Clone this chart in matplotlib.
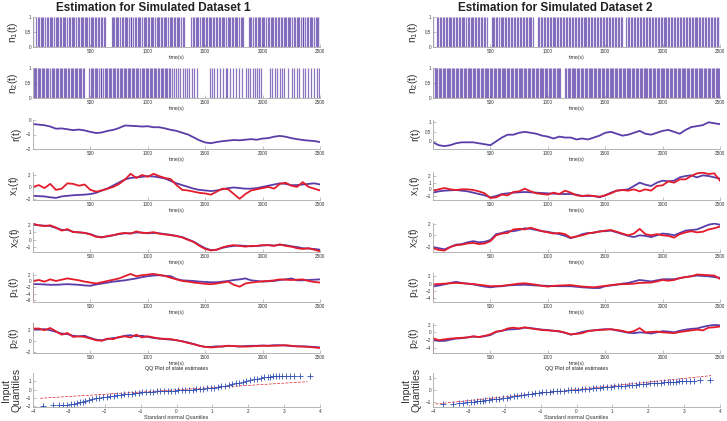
import matplotlib
matplotlib.use('Agg')
import matplotlib.pyplot as plt
import numpy as np

plt.rcParams['font.family'] = ['Liberation Sans', 'DejaVu Sans']

# ---------------- data ----------------
# values sampled every 50 s, t = 0 .. 2500
t = np.arange(0, 2501, 50)

# spike times (s)
n1_ds1 = [3, 30, 44, 52, 66, 80, 91, 104, 122, 131, 147, 160, 168, 183, 197, 206, 221, 238, 245, 259,
          274, 283, 297, 312, 320, 336, 351, 360, 373, 389, 398, 414, 427, 436, 452, 466, 474, 490, 503,
          512, 527, 541, 549, 565, 579, 588, 603, 617, 627, 684, 698, 707, 722, 736, 744, 760, 774, 783,
          798, 811, 820, 836, 850, 858, 873, 887, 896, 912, 925, 934, 950, 963, 972, 988, 1001, 1010,
          1025, 1039, 1048, 1063, 1077, 1086, 1101, 1115, 1124, 1139, 1153, 1161, 1177, 1190, 1199,
          1214, 1228, 1237, 1252, 1266, 1275, 1290, 1304, 1313, 1378, 1392, 1401, 1416, 1430, 1439,
          1454, 1468, 1477, 1492, 1506, 1514, 1530, 1543, 1552, 1567, 1581, 1590, 1605, 1619, 1628,
          1643, 1657, 1666, 1681, 1695, 1703, 1719, 1732, 1741, 1756, 1770, 1779, 1794, 1808, 1817,
          1832, 1880, 1894, 1903, 1918, 1932, 1941, 1956, 1970, 1978, 1994, 2007, 2016, 2031, 2045,
          2054, 2069, 2083, 2092, 2107, 2121, 2130, 2145, 2159, 2167, 2183, 2196, 2205, 2220, 2234,
          2243, 2258, 2272, 2281, 2296, 2310, 2319, 2334, 2348, 2356, 2372, 2385, 2394, 2409, 2423,
          2432, 2447, 2461, 2470, 2485, 2496]
n2_ds1 = [8, 20, 27, 41, 55, 62, 77, 90, 98, 112, 126, 133, 148, 162, 170, 184, 197, 205, 220, 233,
          241, 255, 269, 277, 291, 305, 313, 327, 340, 348, 363, 376, 384, 398, 412, 420, 434, 446,
          490, 503, 517, 525, 539, 553, 561, 575, 588, 596, 611, 624, 632, 646, 660, 668, 682, 696,
          704, 718, 731, 739, 754, 767, 775, 790, 803, 811, 825, 839, 847, 861, 874, 882, 897, 910,
          918, 932, 946, 954, 968, 982, 990, 1004, 1017, 1025, 1040, 1053, 1061, 1075, 1089, 1097,
          1111, 1125, 1133, 1147, 1160, 1168, 1183, 1196,
          1212, 1228, 1246, 1264, 1283, 1306, 1322, 1343, 1362, 1385, 1402, 1428, 1538, 1556, 1576,
          1600, 1633, 1657, 1677, 1693, 1716, 1741, 1766, 1794, 1823, 1852, 1873, 1890, 1916, 1931,
          1949, 1969, 1984, 2065, 2086, 2106, 2129, 2150, 2173, 2188, 2217, 2252, 2275, 2299, 2319,
          2348, 2369, 2392, 2421, 2450, 2474, 2494]
n1_ds2 = [2, 35, 47, 58, 72, 84, 97, 109, 121, 136, 148, 159, 173, 186, 198, 211, 223, 236, 250,
          262, 274, 289, 301, 313, 327, 340, 352, 366, 378, 391, 405, 417, 429, 443, 455, 468, 510,
          523, 535, 549, 561, 574, 588, 600, 612, 626, 639, 651, 665, 677, 690, 704, 716, 729, 742,
          755, 767, 781, 793, 806, 820, 832, 845, 858, 870, 912, 925, 937, 951, 963, 976, 990, 1002,
          1015, 1028, 1041, 1053, 1067, 1079, 1092, 1106, 1118, 1131, 1144, 1157, 1169, 1183, 1195,
          1208, 1222, 1234, 1247, 1260, 1272, 1286, 1298, 1311, 1325, 1337, 1350, 1363, 1376, 1388,
          1402, 1414, 1427, 1441, 1453, 1466, 1479, 1492, 1504, 1518, 1530, 1543, 1557, 1569, 1582,
          1595, 1608, 1620, 1634, 1646, 1685, 1699, 1711, 1724, 1737, 1750, 1762, 1776, 1788, 1801,
          1815, 1827, 1840, 1853, 1866, 1878, 1892, 1904, 1917, 1931, 1943, 1956, 1969, 1982, 1994,
          2008, 2020, 2033, 2047, 2059, 2072, 2085, 2098, 2110, 2124, 2136, 2149, 2163, 2175, 2188,
          2201, 2214, 2226, 2240, 2252, 2265, 2279, 2291, 2304, 2317, 2330, 2342, 2356, 2368, 2381,
          2395, 2407, 2420, 2433, 2446, 2458, 2472, 2484, 2497]
n2_ds2 = [4, 16, 27, 38, 50, 61, 73, 84, 95, 107, 118, 130, 141, 152, 164, 175, 187, 198, 209, 221,
          232, 244, 255, 266, 278, 289, 301, 312, 323, 335, 346, 358, 369, 380, 392, 403, 415, 426,
          437, 449, 460, 472, 483, 494, 506, 517, 529, 540, 551, 563, 574, 586, 597, 608, 620, 631,
          643, 654, 665, 677, 688, 700, 711, 722, 734, 745, 757, 768, 779, 791, 802, 814, 825, 836,
          848, 859, 871, 882, 893, 905, 916, 928, 939, 950, 962, 973, 985, 996, 1007, 1019, 1030,
          1042, 1053, 1064, 1076, 1087, 1099, 1110, 1150, 1161, 1173, 1184, 1196, 1207, 1218, 1230,
          1241, 1253, 1264, 1275, 1287, 1298, 1310, 1321, 1332, 1344, 1355, 1367, 1378, 1389, 1401,
          1412, 1424, 1435, 1446, 1458, 1469, 1481, 1492, 1503, 1515, 1526, 1538, 1549, 1560, 1572,
          1583, 1595, 1606, 1617, 1629, 1640, 1652, 1663, 1674, 1686, 1697, 1709, 1720, 1731, 1743,
          1754, 1766, 1777, 1788, 1800, 1811, 1823, 1834, 1845, 1857, 1868, 1880, 1891, 1902, 1914,
          1925, 1937, 1948, 1959, 1971, 1982, 1994, 2005, 2016, 2028, 2039, 2051, 2062, 2073, 2085,
          2096, 2108, 2119, 2130, 2142, 2153, 2165, 2176, 2187, 2199, 2210, 2222, 2233, 2244, 2256,
          2267, 2279, 2290, 2301, 2313, 2324, 2336, 2347, 2358, 2370, 2381, 2393, 2404, 2415, 2427,
          2438, 2450, 2461, 2472, 2484, 2495]

# dataset 1
r_ds1 = [-0.28, -0.32, -0.36, -0.45, -0.6, -0.58, -0.64, -0.7, -0.66, -0.72,
         -0.82, -0.9, -0.86, -0.75, -0.68, -0.55, -0.38, -0.4, -0.42, -0.45,
         -0.43, -0.5, -0.5, -0.58, -0.68, -0.75, -0.88, -1.0, -1.2, -1.4,
         -1.55, -1.6, -1.52, -1.46, -1.42, -1.38, -1.4, -1.36, -1.32, -1.36,
         -1.28, -1.25, -1.15, -1.1, -1.15, -1.25, -1.32, -1.38, -1.42, -1.45,
         -1.52]
x1_true_ds1 = [-1.5, -1.55, -1.6, -1.75, -1.85, -1.6, -1.5, -1.4, -1.35, -1.3,
               -1.2, -1.0, -0.6, -0.25, 0.25, 0.75, 1.25, 1.5, 1.6, 1.7,
               1.8, 1.75, 1.6, 1.4, 1.0, 0.6, 0.3, 0.0, -0.3, -0.5,
               -0.6, -0.7, -0.6, -0.4, -0.2, -0.1, -0.2, -0.3, -0.3, -0.2,
               0.0, 0.2, 0.4, 0.6, 0.5, 0.3, 0.3, 0.4, 0.5, 0.6,
               0.4]
x1_est_ds1 = [0.0, 0.3, -0.2, 0.5, -0.5, -0.3, 0.6, 0.5, 0.2, 0.4,
              -0.5, -0.8, -0.6, -0.3, 0.0, 0.5, 1.2, 2.2, 1.5, 2.0,
              1.7, 2.2, 1.8, 1.5, 1.3, 0.3, -0.5, -0.6, -0.8, -1.0,
              -1.1, -1.3, -0.8, -0.3, -0.4, -1.2, -2.0, -1.2, -0.6, -0.4,
              -0.2, 0.0, -0.3, 0.5, 0.7, 0.2, 0.0, 0.8, 0.0, -0.3,
              -0.6]
x2_true_ds1 = [2.0, 1.9, 1.85, 1.8, 1.55, 1.3, 1.3, 1.05, 0.95, 0.9,
               0.75, 0.45, 0.35, 0.45, 0.6, 0.75, 0.85, 0.85, 0.95, 0.95,
               0.85, 0.9, 0.85, 0.75, 0.65, 0.5, 0.35, 0.05, -0.25, -0.7,
               -1.1, -1.35, -1.3, -1.05, -0.9, -0.8, -0.75, -0.8, -0.85, -0.8,
               -0.75, -0.7, -0.75, -0.65, -0.7, -0.85, -0.95, -1.1, -1.15, -1.2,
               -1.3]
x2_est_ds1 = [2.1, 1.9, 1.8, 1.9, 1.6, 1.2, 1.4, 1.0, 1.0, 0.9,
              0.7, 0.4, 0.3, 0.5, 0.6, 0.8, 0.9, 0.8, 1.1, 0.9,
              0.9, 1.0, 0.8, 0.7, 0.6, 0.5, 0.3, 0.0, -0.3, -0.8,
              -1.2, -1.4, -1.3, -1.0, -0.8, -0.7, -0.8, -0.9, -0.8, -0.8,
              -0.7, -0.7, -0.8, -0.6, -0.8, -0.9, -1.1, -1.2, -1.1, -1.3,
              -1.5]
p1_true_ds1 = [-1.0, -1.0, -1.1, -1.2, -1.2, -1.1, -1.0, -1.1, -1.2, -1.4,
               -1.5, -1.1, -0.8, -0.5, -0.2, 0.0, 0.2, 0.5, 0.8, 1.2,
               1.5, 1.7, 1.8, 1.6, 1.5, 0.6, 0.2, 0.1, 0.0, -0.2,
               -0.3, -0.4, -0.4, -0.2, 0.0, 0.3, 0.5, 0.8, 0.2, 0.0,
               -0.2, -0.1, 0.0, 0.3, 0.5, 0.8, 0.2, 0.2, 0.3, 0.4,
               0.5]
p1_est_ds1 = [0.0, 0.3, -0.2, 0.5, 0.0, 0.4, 0.8, 0.5, 0.2, -0.2,
              -0.5, -0.8, -0.4, 0.0, 0.4, 0.8, 1.5, 2.2, 1.5, 1.8,
              2.0, 2.2, 1.9, 1.6, 1.0, 0.5, 0.0, -0.2, -0.5, -0.7,
              -0.9, -1.0, -0.8, -0.5, -0.2, -1.2, -1.8, -0.8, -0.5, -0.3,
              -0.1, 0.0, 0.2, 0.5, 0.4, 0.3, 0.4, 0.5, 0.0, -0.3,
              -0.5]
p1_start_ds1 = -6.3
p2_true_ds1 = [2.2, 2.1, 2.2, 2.0, 1.7, 1.4, 1.3, 1.0, 0.9, 1.0,
               0.6, 0.3, 0.2, 0.4, 0.6, 0.7, 1.0, 1.1, 0.9, 1.0,
               0.8, 0.6, 0.5, 0.4, 0.3, 0.2, 0.0, -0.2, -0.5, -0.8,
               -1.0, -1.0, -0.9, -0.95, -0.8, -0.85, -0.95, -0.85, -0.8, -0.8,
               -0.75, -0.8, -0.7, -0.7, -0.75, -0.85, -0.9, -0.9, -0.95, -1.0,
               -1.1]
p2_est_ds1 = [2.3, 2.3, 2.0, 2.4, 1.8, 1.2, 1.5, 0.8, 0.9, 0.8,
              0.5, 0.2, 0.1, 0.5, 0.4, 0.8, 0.9, 0.7, 1.2, 0.7,
              0.9, 0.7, 0.5, 0.45, 0.4, 0.2, 0.0, -0.3, -0.5, -0.8,
              -1.0, -1.1, -1.0, -0.9, -0.8, -0.85, -0.9, -0.95, -0.9, -0.85,
              -0.8, -0.8, -0.8, -0.75, -0.7, -0.8, -0.9, -0.95, -1.0, -1.1,
              -1.2]
p2_start_ds1 = 3.2

# dataset 2
r_ds2 = [-0.05, -0.2, -0.25, -0.2, -0.1, -0.05, -0.05, -0.05, -0.1, -0.15,
         -0.2, 0.0, 0.2, 0.35, 0.35, 0.45, 0.5, 0.45, 0.4, 0.3,
         0.25, 0.15, 0.25, 0.2, 0.2, 0.1, 0.15, 0.1, 0.2, 0.3,
         0.45, 0.5, 0.4, 0.3, 0.35, 0.45, 0.55, 0.4, 0.35, 0.45,
         0.55, 0.6, 0.5, 0.4, 0.6, 0.75, 0.8, 0.85, 1.0, 0.95,
         0.9]
x1_true_ds2 = [-0.5, -0.3, -0.2, -0.15, -0.1, -0.2, -0.3, -0.5, -0.7, -0.9,
               -1.2, -1.0, -0.7, -0.6, -0.5, -0.45, -0.4, -0.45, -0.5, -0.55,
               -0.6, -0.65, -0.7, -0.7, -0.7, -0.8, -1.0, -1.0, -1.0, -1.2,
               -0.9, -0.5, -0.2, -0.1, 0.0, 0.5, 1.0, 0.7, 0.5, 1.0,
               1.3, 1.2, 1.3, 1.8, 2.0, 2.1, 1.8, 2.1, 2.0, 1.8,
               1.6]
x1_est_ds2 = [-0.2, 0.0, 0.2, 0.0, -0.1, 0.0, 0.0, -0.1, -0.3, -0.6,
              -1.3, -1.2, -0.8, -0.9, -0.4, -0.3, 0.1, -0.3, -0.6, -0.7,
              -0.8, -0.5, -0.7, -0.2, -0.5, -0.9, -1.0, -0.9, -1.0, -1.1,
              -0.9, -0.6, -0.2, -0.1, -0.2, 0.0, -0.3, 0.0, -0.2, 0.5,
              0.6, 1.2, 1.0, 1.5, 1.5, 2.0, 2.4, 2.5, 2.3, 2.4,
              1.3]
x2_true_ds2 = [-2.0, -2.2, -2.4, -2.0, -1.6, -1.5, -1.2, -1.0, -1.2, -1.1,
               -0.8, 0.2, 0.4, 0.7, 0.7, 0.9, 1.2, 1.1, 0.9, 0.7,
               0.6, 0.4, 0.2, -0.1, -0.5, -0.2, 0.2, 0.4, 0.4, 0.7,
               0.7, 0.8, 0.5, 0.2, -0.1, -0.3, 0.0, -0.1, -0.3, 0.0,
               0.3, 0.2, 0.0, 0.4, 0.8, 0.9, 1.0, 1.4, 1.8, 2.0,
               1.8]
x2_est_ds2 = [-2.2, -2.5, -2.6, -2.0, -1.7, -1.6, -1.4, -1.3, -1.5, -1.4,
              -1.0, 0.0, 0.3, 0.4, 1.0, 1.1, 1.0, 1.3, 1.0, 0.7,
              0.5, 0.3, 0.4, 0.2, -0.4, -0.2, 0.0, 0.3, 0.5, 0.6,
              0.8, 0.9, 0.6, 0.3, 0.0, 0.3, 1.1, 0.2, 0.0, 0.2,
              0.0, -0.1, -0.4, 0.2, 0.5, 0.7, 0.5, 0.6, 1.0, 1.2,
              1.5]
p1_true_ds2 = [-0.8, -0.5, -0.2, 0.2, 0.5, 0.2, 0.0, -0.2, -0.5, -0.8,
               -1.0, -0.8, -0.7, -0.5, -0.4, -0.35, -0.3, -0.4, -0.5, -0.55,
               -0.6, -0.65, -0.7, -0.7, -0.7, -0.85, -1.0, -1.1, -1.2, -1.2,
               -0.7, -0.5, -0.3, 0.0, 0.2, 0.6, 1.0, 0.8, 0.6, 0.9,
               1.2, 1.2, 1.2, 1.5, 1.8, 2.0, 2.2, 2.1, 2.0, 1.8,
               1.6]
p1_est_ds2 = [-0.2, -0.1, 0.0, 0.1, 0.2, 0.1, 0.0, -0.1, -0.3, -0.5,
              -0.7, -0.65, -0.6, -0.4, -0.2, 0.0, 0.1, -0.1, -0.3, -0.6,
              -0.8, -0.6, -0.5, -0.45, -0.4, -0.6, -0.8, -0.9, -1.0, -0.8,
              -0.6, -0.4, -0.2, -0.15, -0.1, 0.0, 0.2, 0.25, 0.3, 0.6,
              1.0, 0.8, 1.0, 1.5, 1.8, 2.0, 2.5, 2.4, 2.3, 2.2,
              1.3]
p1_start_ds2 = -4.3
p2_true_ds2 = [-2.0, -2.2, -2.2, -1.9, -1.6, -1.5, -1.3, -1.1, -1.2, -1.0,
               -0.7, 0.1, 0.4, 0.7, 0.8, 0.9, 1.2, 1.1, 0.9, 0.7,
               0.6, 0.4, 0.2, -0.1, -0.6, -0.3, 0.1, 0.4, 0.5, 0.7,
               0.8, 0.8, 0.5, 0.2, -0.1, -0.2, 0.0, -0.1, -0.3, 0.0,
               0.3, 0.2, 0.0, 0.4, 0.7, 0.9, 1.0, 1.4, 1.7, 1.9,
               1.8]
p2_est_ds2 = [-1.5, -2.0, -1.8, -1.6, -1.5, -1.4, -1.3, -1.0, -1.2, -0.9,
              -0.5, 0.2, 0.4, 1.0, 1.2, 1.0, 1.3, 1.0, 0.8, 0.6,
              0.5, 0.4, 0.3, -0.1, -0.5, -0.4, -0.2, 0.3, 0.5, 0.6,
              0.7, 0.8, 0.6, 0.4, 0.0, 0.3, 1.1, 0.0, 0.1, 0.2,
              0.0, -0.1, -0.2, 0.1, 0.3, 0.5, 0.7, 0.5, 1.2, 1.3,
              1.5]
p2_start_ds2 = -5.2

# QQ plots
qq_x = [-3.72, -3.45, -3.28, -3.15, -3.04, -2.95, -2.86, -2.78, -2.7, -2.62, -2.55,
        -2.45, -2.35, -2.25, -2.15, -2.05, -1.95, -1.85, -1.75, -1.65, -1.55,
        -1.45, -1.35, -1.25, -1.15, -1.05, -0.95, -0.85, -0.75, -0.65, -0.55,
        -0.45, -0.35, -0.25, -0.15, -0.05, 0.05, 0.15, 0.25, 0.35, 0.45,
        0.55, 0.65, 0.75, 0.85, 0.95, 1.05, 1.15, 1.25, 1.35, 1.45,
        1.55, 1.65, 1.75, 1.85, 1.95, 2.05, 2.15, 2.25, 2.35, 2.45,
        2.55, 2.62, 2.7, 2.78, 2.86, 2.95, 3.04, 3.15, 3.28, 3.45, 3.72]
qq_y_ds1 = [-1.92, -1.91, -1.9, -1.88, -1.84, -1.78, -1.7, -1.62, -1.53, -1.44, -1.37,
            -1.27, -1.15, -1.05, -0.98, -0.93, -0.88, -0.83, -0.77, -0.7, -0.64,
            -0.59, -0.54, -0.49, -0.44, -0.38, -0.34, -0.31, -0.28, -0.25, -0.21,
            -0.19, -0.17, -0.15, -0.14, -0.13, -0.11, -0.09, -0.07, -0.04, -0.01,
            0.02, 0.06, 0.1, 0.14, 0.18, 0.23, 0.31, 0.39, 0.47, 0.56,
            0.65, 0.74, 0.84, 0.94, 1.03, 1.13, 1.23, 1.32, 1.4, 1.48,
            1.53, 1.56, 1.59, 1.6, 1.61, 1.62, 1.62, 1.63, 1.63, 1.64, 1.65]
qq_y_ds2 = [-1.2, -1.19, -1.15, -1.11, -1.07, -1.04, -1.0, -0.97, -0.94, -0.91, -0.89,
            -0.86, -0.82, -0.78, -0.74, -0.7, -0.66, -0.61, -0.56, -0.52, -0.47,
            -0.42, -0.37, -0.33, -0.29, -0.25, -0.22, -0.18, -0.16, -0.13, -0.11,
            -0.09, -0.07, -0.05, -0.03, -0.01, 0.01, 0.04, 0.06, 0.08, 0.11,
            0.13, 0.16, 0.19, 0.22, 0.25, 0.28, 0.3, 0.33, 0.35, 0.37,
            0.4, 0.42, 0.44, 0.47, 0.49, 0.52, 0.55, 0.57, 0.6, 0.62,
            0.64, 0.65, 0.67, 0.68, 0.69, 0.7, 0.72, 0.73, 0.75, 0.78, 0.82]
qq_ref_x_ds1 = [-3.8, 3.65]
qq_ref_y_ds1 = [-1.05, 0.95]
qq_ref_x_ds2 = [-3.93, 3.75]
qq_ref_y_ds2 = [-1.2, 1.18]

# ---------------- figure ----------------
BLUE = '#5a3da8'
RED = '#e31b2b'
SPIKE = '#5a3aa6'
GRAY = '#a8a8a8'

fig = plt.figure(figsize=(7.27, 4.21), dpi=100)

rows_px = [(17, 47), (68, 98), (120, 149), (172, 200), (223, 252), (273, 302), (323, 353), (373, 407)]
col_left_px = [33, 433]


def make_ax(col, row):
    top, bot = rows_px[row]
    ax = fig.add_axes([col_left_px[col] / 727, 1 - bot / 421, 287 / 727, (bot - top) / 421])
    for s in ['top', 'right']:
        ax.spines[s].set_visible(False)
    for s in ['left', 'bottom']:
        ax.spines[s].set_color(GRAY)
        ax.spines[s].set_linewidth(0.6)
    ax.tick_params(direction='in', length=2, width=0.5, color=GRAY,
                   labelsize=3.3, labelcolor='#333333', pad=1.5)
    return ax


def time_axis(ax, ylab):
    ax.set_xlim(0, 2500)
    ax.set_xticks([500, 1000, 1500, 2000, 2500])
    ax.set_xlabel('time(s)', fontsize=3.7, labelpad=1, color='#333333')
    ax.set_ylabel(ylab, fontsize=7.5, labelpad=3, color='#333333')


def spikes(ax, times, ylab):
    ax.vlines(times, 0, 1, color=SPIKE, linewidth=0.9, alpha=0.7)
    ax.set_ylim(0, 1)
    ax.set_yticks([0, 0.5, 1])
    ax.set_yticklabels(['0', '0.5', '1'])
    time_axis(ax, ylab)


def traces(ax, true, est, ylab, ylim, yticks, ticklabels=None, start=None):
    if true is not None:
        ax.plot(t, true, color=BLUE, linewidth=1.3)
    if est is not None:
        ax.plot(t, est, color=RED, linewidth=1.3)
        if start is not None:
            ax.plot([t[0] + 2, t[0] + 2], [start, est[0]], color=RED, linewidth=1.2)
    ax.set_ylim(*ylim)
    ax.set_yticks(yticks)
    if ticklabels is not None:
        ax.set_yticklabels(ticklabels)
    time_axis(ax, ylab)


def qq(ax, y, rx, ry, ylim, yticks):
    ax.plot(rx, ry, color=RED, linestyle=(0, (4, 2)), linewidth=0.5)
    ax.plot(qq_x, y, linestyle='none', marker='+', markersize=4.5,
            markeredgewidth=0.6, color='#2f4fb5')
    ax.set_xlim(-4, 4)
    ax.set_xticks([-4, -3, -2, -1, 0, 1, 2, 3, 4])
    ax.set_ylim(*ylim)
    ax.set_yticks(yticks)
    ax.set_title('QQ Plot of state estimates', fontsize=3.9, pad=2, color='#222222')
    ax.set_xlabel('Standard normal Quantiles', fontsize=3.9, labelpad=1, color='#333333')
    ax.set_ylabel('Input\nQuantiles', fontsize=7.5, labelpad=3, color='#333333',
                  linespacing=1.0)


lab = {
    'n1': r'$\mathregular{n_1(t)}$', 'n2': r'$\mathregular{n_2(t)}$',
    'r': 'r(t)', 'x1': r'$\mathregular{x_1(t)}$', 'x2': r'$\mathregular{x_2(t)}$',
    'p1': r'$\mathregular{p_1(t)}$', 'p2': r'$\mathregular{p_2(t)}$',
}

# dataset 1 (left)
spikes(make_ax(0, 0), n1_ds1, lab['n1'])
spikes(make_ax(0, 1), n2_ds1, lab['n2'])
traces(make_ax(0, 2), r_ds1, None, lab['r'], (-2, 0), [-2, -1, 0])
traces(make_ax(0, 3), x1_true_ds1, x1_est_ds1, lab['x1'], (-2.2, 2.5), [-2, 0, 2])
traces(make_ax(0, 4), x2_true_ds1, x2_est_ds1, lab['x2'], (-1.6, 2.2), [-1, 0, 1, 2])
traces(make_ax(0, 5), p1_true_ds1, p1_est_ds1, lab['p1'], (-6.6, 2.5), [-6, -4, -2, 0, 2],
       start=p1_start_ds1)
traces(make_ax(0, 6), p2_true_ds1, p2_est_ds1, lab['p2'], (-2.1, 3.3), [-2, 0, 2],
       start=p2_start_ds1)
qq(make_ax(0, 7), qq_y_ds1, qq_ref_x_ds1, qq_ref_y_ds1, (-2.1, 2.0), [-2, -1, 0, 1])

# dataset 2 (right)
spikes(make_ax(1, 0), n1_ds2, lab['n1'])
spikes(make_ax(1, 1), n2_ds2, lab['n2'])
traces(make_ax(1, 2), r_ds2, None, lab['r'], (-0.4, 1.12), [0, 0.5, 1], ['0', '0.5', '1'])
traces(make_ax(1, 3), x1_true_ds2, x1_est_ds2, lab['x1'], (-1.6, 2.6), [-1, 0, 1, 2])
traces(make_ax(1, 4), x2_true_ds2, x2_est_ds2, lab['x2'], (-2.85, 2.1), [-2, 0, 2])
traces(make_ax(1, 5), p1_true_ds2, p1_est_ds2, lab['p1'], (-5.0, 2.9), [-4, -2, 0, 2],
       start=p1_start_ds2)
traces(make_ax(1, 6), p2_true_ds2, p2_est_ds2, lab['p2'], (-5.3, 2.4), [-4, -2, 0, 2],
       start=p2_start_ds2)
qq(make_ax(1, 7), qq_y_ds2, qq_ref_x_ds2, qq_ref_y_ds2, (-1.45, 1.4), [-1, 0, 1])

fig.text(153 / 727, 1 - 8 / 421, 'Estimation for Simulated Dataset 1', ha='center', va='center',
         fontsize=8.5, fontweight='bold', color='#222222')
fig.text(555 / 727, 1 - 8 / 421, 'Estimation for Simulated Dataset 2', ha='center', va='center',
         fontsize=8.5, fontweight='bold', color='#222222')

fig.savefig('out.png', dpi=100)
